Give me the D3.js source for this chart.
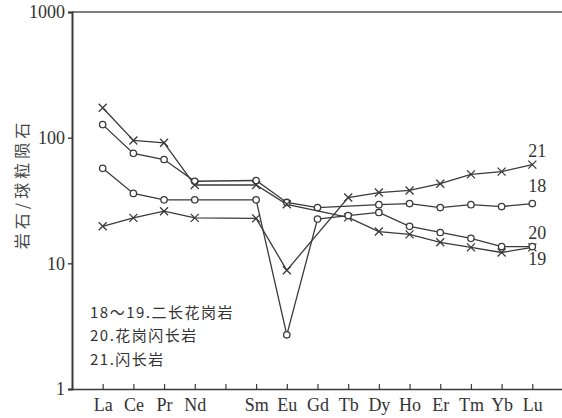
<!DOCTYPE html>
<html><head><meta charset="utf-8">
<script src="https://cdn.jsdelivr.net/npm/d3@7"></script>
<style>
html,body{margin:0;padding:0;background:#fff;}
svg{display:block;}
</style></head>
<body>
<svg id="chart" width="562" height="418"></svg>
<script>
const categories = ["La","Ce","Pr","Nd","Pm","Sm","Eu","Gd","Tb","Dy","Ho","Er","Tm","Yb","Lu"];
const tickLabels = ["La","Ce","Pr","Nd","","Sm","Eu","Gd","Tb","Dy","Ho","Er","Tm","Yb","Lu"];
const yTicks = [1,10,100,1000];
const s18 = [127,75,67,45,null,45.6,30.5,27.8,null,29.3,29.9,27.8,29.3,28.3,29.9];
const s19 = [173,95,91,42,null,42,29.5,null,23.2,17.9,17.0,14.7,13.4,12.2,13.4];
const s20 = [57,36,32,32,null,32,2.7,22.5,24,25.4,19.7,17.6,15.8,13.6,13.6];
const s21 = [19.7,23,26,23,null,22.8,8.8,null,33.4,36.6,38,43,51,53.7,61];
const seriesNames = ["18","19","20","21"];
const seriesMarkers = ["circle","cross","circle","cross"];
const legendLines = ["18～19.二长花岗岩","20.花岗闪长岩","21.闪长岩"];
const yTitle = "岩石/球粒陨石";

const seriesList = [s18,s19,s20,s21].map((v,i)=>({name:seriesNames[i],marker:seriesMarkers[i],values:v}));

const svg = d3.select("#chart");
const ink = "#3a3a3a";
const x = d3.scaleLinear().domain([-1,15]).range([72,563]);
const y = d3.scaleLog().domain([1,1000]).range([389,12]);

// frame line at top
svg.append("line").attr("x1",72).attr("x2",562).attr("y1",y(1000)).attr("y2",y(1000))
  .attr("stroke","#555").attr("stroke-width",1.3);

// x axis (ticks inward)
const xAxis = d3.axisBottom(x).tickValues(d3.range(categories.length))
  .tickSize(0).tickPadding(6).tickFormat(i=>tickLabels[i]);
const gx = svg.append("g").attr("transform",`translate(0,${y(1)})`).call(xAxis);
gx.select(".domain").attr("stroke",ink).attr("stroke-width",1.6);
gx.selectAll(".tick line").remove();
gx.selectAll(".tick").append("line").attr("y1",0).attr("y2",-5).attr("stroke",ink).attr("stroke-width",1.2);
gx.selectAll(".tick text").attr("font-family","'Liberation Serif', serif").attr("font-size",18)
  .attr("fill","#333").attr("dy","0.9em");

// y axis
const yAxis = d3.axisLeft(y).tickValues(yTicks).tickSize(4).tickPadding(3).tickFormat(d3.format("d"));
const gy = svg.append("g").attr("transform","translate(72,0)").call(yAxis);
gy.select(".domain").attr("stroke",ink).attr("stroke-width",2);
gy.selectAll(".tick line").attr("stroke",ink).attr("stroke-width",1.4);
gy.selectAll(".tick text").attr("font-family","'Liberation Serif', serif").attr("font-size",18).attr("fill","#333");

// y title
svg.append("text").attr("transform","translate(21,184) rotate(-90)")
  .attr("text-anchor","middle").attr("dominant-baseline","central")
  .attr("font-family","'Noto Sans CJK SC', sans-serif").attr("font-size",16)
  .attr("letter-spacing",4).attr("fill","#444").text(yTitle);

// series lines
const line = d3.line().x(d=>x(d.i)).y(d=>y(d.v));
seriesList.forEach(s=>{
  const pts = s.values.map((v,i)=>({i,v})).filter(d=>d.v!=null);
  svg.append("path").datum(pts).attr("d",line).attr("fill","none")
    .attr("stroke",ink).attr("stroke-width",1.3);
});
// markers
seriesList.forEach(s=>{
  const pts = s.values.map((v,i)=>({i,v})).filter(d=>d.v!=null);
  const g = svg.append("g");
  if(s.marker==="circle"){
    g.selectAll("circle").data(pts).join("circle")
      .attr("cx",d=>x(d.i)).attr("cy",d=>y(d.v)).attr("r",3.2)
      .attr("fill","#fff").attr("stroke",ink).attr("stroke-width",1.3);
  } else {
    const k=4;
    g.selectAll("path").data(pts).join("path")
      .attr("d",d=>{const cx=x(d.i),cy=y(d.v);return `M${cx-k},${cy-k}L${cx+k},${cy+k}M${cx-k},${cy+k}L${cx+k},${cy-k}`;})
      .attr("stroke",ink).attr("stroke-width",1.3).attr("fill","none");
  }
});

// end labels
const endOffsets = {"21":-14,"18":-18,"20":-14,"19":12};
seriesList.forEach(s=>{
  const last = s.values.length-1;
  svg.append("text").attr("x",x(last)-4).attr("y",y(s.values[last])+endOffsets[s.name])
    .attr("dominant-baseline","central")
    .attr("font-family","'Liberation Serif', serif").attr("font-size",18).attr("fill","#333")
    .text(s.name);
});

// legend
legendLines.forEach((t,i)=>{
  svg.append("text").attr("x",90).attr("y",311+i*23.5).attr("dominant-baseline","central")
    .attr("font-family","'Noto Sans CJK SC', sans-serif").attr("font-size",15)
    .attr("letter-spacing",1.5).attr("fill","#333").text(t);
});
</script>
</body></html>
